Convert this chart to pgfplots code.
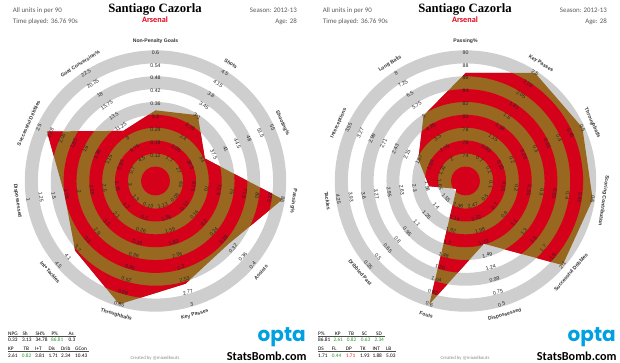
\documentclass[border=0pt]{standalone}
\usepackage{pgfplots}
\pgfplotsset{compat=1.18}
\usepackage{pgfplotstable}
\usepgfplotslibrary{polar}
\usepackage{fontspec}
\setmainfont{Liberation Sans}
\newfontfamily\carlito{Carlito}
\newfontfamily\serifbold{Liberation Serif}
\newfontfamily\poppins{Poppins}

\definecolor{radred}{RGB}{213,0,25}
\definecolor{radbrown}{RGB}{153,104,32}
\definecolor{radgray}{RGB}{206,206,206}
\definecolor{txtgray}{RGB}{89,89,89}
\definecolor{optablue}{RGB}{0,160,225}
\definecolor{goodgreen}{RGB}{40,150,40}
\definecolor{badred}{RGB}{228,30,36}
\definecolor{teamred}{RGB}{226,0,26}

\newcommand{\s}{12.85}

% angle, player value, value at centre (lo), value at outer ring (hi)
\pgfplotstableread{
angle value lo hi
90 0.33 0 0.6
57.27 3.13 1.0 4.5
24.55 34.78 20 55
-8.18 86.81 60 85
-40.91 0.30 0 0.4
-73.64 2.61 0.6667 3.0
-106.36 0.82 0 0.65
-139.09 3.81 0.5 4.5
-171.82 1.71 3.5 1.0
-204.55 2.34 0.25 2.5
-237.27 10.43 0 22.5
-270 0.33 0 0.6
}\leftdata

\pgfplotstableread{
angle value lo hi
90 86.81 70 90
57.27 2.61 0.25 2.5
24.55 0.82 0 0.5
-8.18 0.63 0 0.5
-40.91 2.34 0.1 2.1
-73.64 1.71 2.9625 0.5
-106.36 0.44 2.8 0.6
-139.09 1.71 1.85 0.35
-171.82 1.93 1.0 4.25
-204.55 1.88 0.75 3.55
-237.27 5.03 0.5 8
-270 86.81 70 90
}\rightdata

\tikzset{
 ringlab/.style={font=\fontsize{5.2}{6}\selectfont, inner sep=0pt, text=black!85},
 namelab/.style={font=\fontsize{5.1}{6}\selectfont\bfseries, inner sep=0pt, text=black!80},
 hdr/.style={font=\carlito\fontsize{6.9}{8}\selectfont, text=txtgray, inner sep=0pt},
 tab/.style={font=\carlito\fontsize{5.3}{6}\selectfont, inner sep=0pt, anchor=base west},
}

\newcommand{\spoke}[5]{%
  \foreach \lab [count=\k from 2] in {#5} {
    \path (#1) ++(#2:{\k*\s pt}) node[ringlab, rotate=#3] {\lab};
  }
  \path (#1) ++(#2:{10.85*\s pt}) node[namelab, rotate=#3] {#4};
}

\pgfplotsset{radar/.style={scale only axis, width=262.14pt, height=262.14pt,
  ymin=0, ymax=10.2, hide axis, clip=false, anchor=center}}

\newcommand{\rings}{%
  \fill[radgray, even odd rule] (axis cs:0,0) circle[radius=1.12*\s pt] circle[radius=2.15*\s pt]
    circle[radius=3.15*\s pt] circle[radius=4.15*\s pt] circle[radius=5.15*\s pt]
    circle[radius=6.15*\s pt] circle[radius=7.15*\s pt] circle[radius=8.15*\s pt]
    circle[radius=9.15*\s pt] circle[radius=10.17*\s pt];
}
\tikzset{redrings/.style={path picture={
  \fill[radred, even odd rule, path picture={}] (axis cs:0,0) circle[radius=1.12*\s pt] circle[radius=2.15*\s pt]
    circle[radius=3.15*\s pt] circle[radius=4.15*\s pt] circle[radius=5.15*\s pt]
    circle[radius=6.15*\s pt] circle[radius=7.15*\s pt] circle[radius=8.15*\s pt]
    circle[radius=9.15*\s pt];
}}}

\begin{document}
\begin{tikzpicture}[x=1pt,y=1pt]
\useasboundingbox (0,0) rectangle (620,362);

% ---------------- left radar
\begin{polaraxis}[radar, at={(155.5pt,181pt)}]
\coordinate (cL) at (axis cs:0,0);
\rings
\addplot[draw=none, fill=radbrown, redrings] table[x=angle,
  y expr={min(10,max(0,10*(\thisrow{value}-\thisrow{lo})/(\thisrow{hi}-\thisrow{lo})))}] {\leftdata};
\end{polaraxis}

% ---------------- right radar
\begin{polaraxis}[radar, at={(465.5pt,181pt)}]
\coordinate (cR) at (axis cs:0,0);
\rings
\addplot[draw=none, fill=radbrown, redrings] table[x=angle,
  y expr={min(10,max(0,10*(\thisrow{value}-\thisrow{lo})/(\thisrow{hi}-\thisrow{lo})))}] {\rightdata};
\end{polaraxis}

\spoke{cL}{90}{0}{Non-Penalty Goals}{0.12,0.18,0.24,0.3,0.36,0.42,0.48,0.54,0.6}
\spoke{cL}{57.27}{-32.73}{Shots}{1.7,2.05,2.4,2.75,3.1,3.45,3.8,4.15,4.5}
\spoke{cL}{24.55}{-65.45}{Shooting\%}{27,30.5,34,37.5,41,44.5,48,51.5,55}
\spoke{cL}{-8.18}{-98.18}{Passing\%}{65,67.5,70,72.5,75,77.5,80,82.5,85}
\spoke{cL}{-40.91}{49.09}{Assists}{0.08,0.12,0.16,0.2,0.24,0.28,0.32,0.36,0.4}
\spoke{cL}{-73.64}{16.36}{Key Passes}{1.13,1.36,1.59,1.83,2.06,2.3,2.53,2.77,3}
\spoke{cL}{-106.36}{-16.36}{Throughballs}{0.13,0.2,0.26,0.33,0.39,0.46,0.52,0.59,0.65}
\spoke{cL}{-139.09}{-49.09}{Int+Tackles}{1.3,1.7,2.1,2.5,2.9,3.3,3.7,4.1,4.5}
\spoke{cL}{-171.82}{-81.82}{Dispossessed}{3,2.75,2.5,2.25,2,1.75,1.5,1.25,1}
\spoke{cL}{155.45}{65.45}{Successful Dribbles}{0.7,0.93,1.15,1.38,1.6,1.83,2.05,2.28,2.5}
\spoke{cL}{122.73}{32.73}{Goal Conversion\%}{4.5,6.75,9,11.25,13.5,15.75,18,20.25,22.5}

\spoke{cR}{90}{0}{Passing\%}{74,76,78,80,82,84,86,88,90}
\spoke{cR}{57.27}{-32.73}{Key Passes}{0.7,0.93,1.15,1.38,1.6,1.83,2.05,2.28,2.5}
\spoke{cR}{24.55}{-65.45}{Throughballs}{0.1,0.15,0.2,0.25,0.3,0.35,0.4,0.45,0.5}
\spoke{cR}{-8.18}{-98.18}{Scoring Contribution}{0.1,0.15,0.2,0.25,0.3,0.35,0.4,0.45,0.5}
\spoke{cR}{-40.91}{49.09}{Successful Dribbles}{0.5,0.7,0.9,1.1,1.3,1.5,1.7,1.9,2.1}
\spoke{cR}{-73.64}{16.36}{Dispossessed}{2.47,2.22,1.98,1.73,1.49,1.24,0.99,0.75,0.5}
\spoke{cR}{-106.36}{-16.36}{Fouls}{2.36,2.14,1.92,1.7,1.48,1.26,1.04,0.82,0.6}
\spoke{cR}{-139.09}{-49.09}{Dribbled Past}{1.55,1.4,1.25,1.1,0.95,0.8,0.65,0.5,0.35}
\spoke{cR}{-171.82}{-81.82}{Tackles}{1.65,1.98,2.3,2.63,2.95,3.27,3.6,3.93,4.25}
\spoke{cR}{155.45}{65.45}{Interceptions}{1.31,1.59,1.87,2.15,2.43,2.71,2.99,3.27,3.55}
\spoke{cR}{122.73}{32.73}{Long Balls}{2,2.75,3.5,4.25,5,5.75,6.5,7.25,8}

% ---------------- headers
\foreach \dx in {0,310} {
  \node[hdr, anchor=base west] at (12.7+\dx,349.7) {All units in per 90};
  \node[hdr, anchor=base west] at (12.7+\dx,338.7) {Time played: 36.76 90s};
  \node[hdr, anchor=base east] at (297+\dx,349.7) {Season: 2012-13};
  \node[hdr, anchor=base east] at (297+\dx,338.7) {Age: 28};
  \node[anchor=base, inner sep=0pt, font=\serifbold\bfseries\fontsize{12.7}{14}\selectfont] at (155+\dx,349.3) {Santiago Cazorla};
  \node[anchor=base, inner sep=0pt, font=\carlito\bfseries\fontsize{8.2}{9}\selectfont, text=teamred] at (155+\dx,339.7) {Arsenal};
  \node[anchor=base, inner sep=0pt, font=\poppins\bfseries\fontsize{20}{22}\selectfont, text=optablue] at (281.7+\dx,20.3) {opta};
  \node[anchor=base east, inner sep=0pt, font=\carlito\bfseries\fontsize{12.2}{14}\selectfont] at (306.7+\dx,2) {StatsBomb.com};
  \node[anchor=base, inner sep=0pt, font=\carlito\fontsize{4.8}{5}\selectfont, text=black!45] at (155+\dx,3) {Created by @mixedknuts};
}

% ---------------- left table
\node[tab] at (8,27) {NPG}; \node[tab] at (22.3,27) {Sh}; \node[tab] at (35.3,27) {SH\%}; \node[tab] at (51.3,27) {P\%}; \node[tab] at (68.3,27) {As};
\draw[line width=0.4pt, black!70] (8,25.8) -- (76,25.8);
\node[tab] at (8,20.5) {0.33}; \node[tab] at (22,20.5) {3.13}; \node[tab] at (35.3,20.5) {34.78}; \node[tab, text=goodgreen] at (51,20.5) {86.81}; \node[tab] at (68.3,20.5) {0.3};
\node[tab] at (8,12) {KP}; \node[tab] at (23.3,12) {TB}; \node[tab] at (35,12) {I+T}; \node[tab] at (48.3,12) {Dis}; \node[tab] at (61,12) {Drib}; \node[tab] at (75,12) {GCon};
\draw[line width=0.4pt, black!70] (8,10.8) -- (89,10.8);
\node[tab] at (8,4.5) {2.61}; \node[tab, text=goodgreen] at (21.7,4.5) {0.82}; \node[tab] at (35,4.5) {3.81}; \node[tab] at (48.3,4.5) {1.71}; \node[tab] at (61,4.5) {2.34}; \node[tab] at (75,4.5) {10.43};

% ---------------- right table
\node[tab] at (318,27) {P\%}; \node[tab] at (335,27) {KP}; \node[tab] at (348.3,27) {TB}; \node[tab] at (361.7,27) {SC}; \node[tab] at (376,27) {SD};
\draw[line width=0.4pt, black!70] (318,25.8) -- (385,25.8);
\node[tab] at (318,20.5) {86.81}; \node[tab, text=goodgreen] at (333.3,20.5) {2.61}; \node[tab, text=goodgreen] at (346.7,20.5) {0.82}; \node[tab, text=goodgreen] at (360.7,20.5) {0.63}; \node[tab, text=goodgreen] at (374.3,20.5) {2.34};
\node[tab] at (318,12) {DS}; \node[tab] at (331.7,12) {FL}; \node[tab] at (345.7,12) {DP}; \node[tab] at (360,12) {TK}; \node[tab] at (372.3,12) {INT}; \node[tab] at (386,12) {LB};
\draw[line width=0.4pt, black!70] (318,10.8) -- (396,10.8);
\node[tab] at (318,4.5) {1.71}; \node[tab, text=goodgreen] at (331.7,4.5) {0.44}; \node[tab, text=badred] at (345.7,4.5) {1.71}; \node[tab] at (360,4.5) {1.93}; \node[tab] at (372.3,4.5) {1.88}; \node[tab] at (386,4.5) {5.03};
\end{tikzpicture}
\end{document}
